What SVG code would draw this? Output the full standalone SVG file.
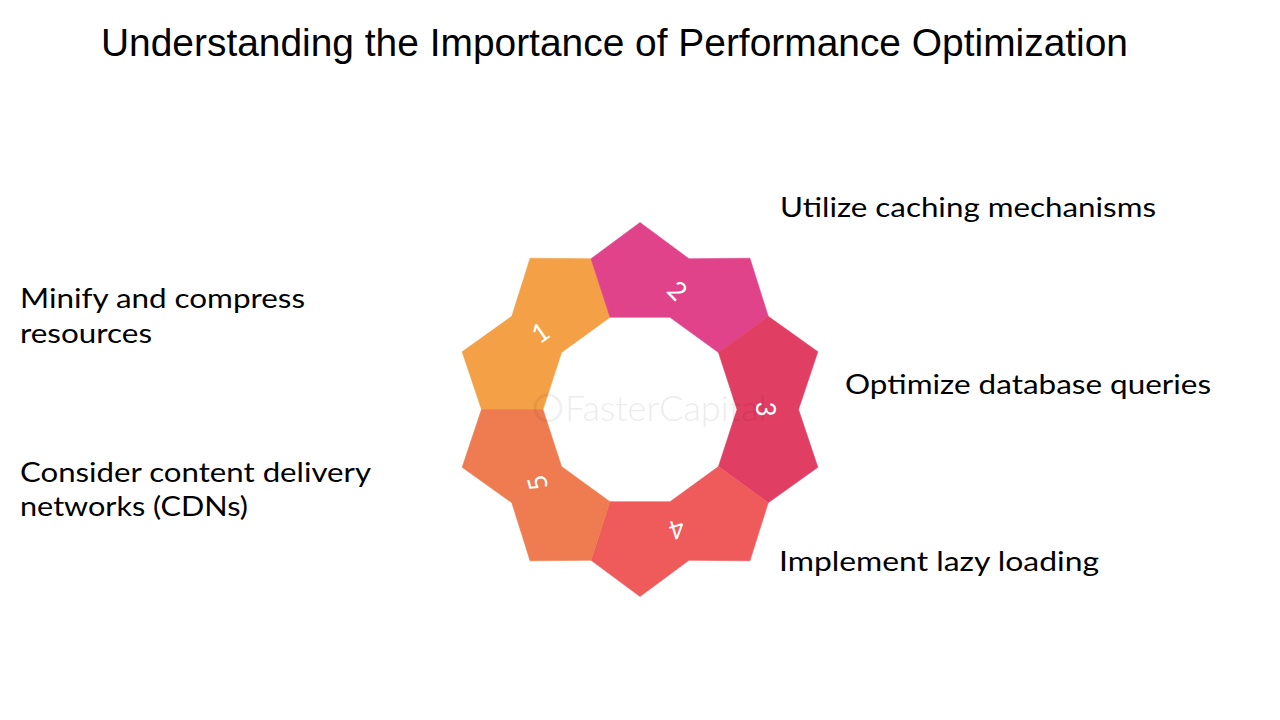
<svg xmlns="http://www.w3.org/2000/svg" width="1280" height="720" viewBox="0 0 1280 720">
<style>
.title{font-family:"Liberation Sans",Arial,sans-serif;font-size:38px;fill:#000}
.lbl{font-family:Lato,"Open Sans",sans-serif;font-size:26px;fill:#000}
.num{font-family:Lato,"Open Sans",sans-serif;font-size:26px;fill:#fff;text-anchor:middle;dominant-baseline:central}
.seg{stroke-width:0.6;stroke-linejoin:round}
.wm{font-family:Lato,"Open Sans",sans-serif;font-weight:300;font-size:36px;fill:#000;opacity:0.07}
</style>
<rect width="1280" height="720" fill="#fff"/>
<text class="title" x="101" y="56" textLength="1027" lengthAdjust="spacingAndGlyphs">Understanding the Importance of Performance Optimization</text>

<g id="ring">
<g id="seg1">
<polygon class="seg" fill="#F4A047" stroke="#F4A047" points="591.02,258.76 530.08,258.21 511.77,316.33 462.15,351.71 481.5,409.5 543,409.5 561.53,352.48 610.03,317.25"/>
<text class="num" transform="translate(540,332) rotate(-35)">1</text>
</g>
<g id="seg2">
<polygon class="seg" fill="#E0438A" stroke="#E0438A" points="768.23,316.33 749.92,258.21 688.98,258.76 640,222.5 591.02,258.76 610.03,317.25 669.97,317.25 718.47,352.48"/>
<text class="num" transform="translate(678,290) rotate(45)">2</text>
</g>
<g id="seg3">
<polygon class="seg" fill="#E03E62" stroke="#E03E62" points="768.23,502.67 817.85,467.29 798.5,409.5 817.85,351.71 768.23,316.33 718.47,352.48 737,409.5 718.47,466.52"/>
<text class="num" transform="translate(766,409) rotate(90)">3</text>
</g>
<g id="seg4">
<polygon class="seg" fill="#EF5A5A" stroke="#EF5A5A" points="591.02,560.24 640,596.5 688.98,560.24 749.92,560.79 768.23,502.67 718.47,466.52 669.97,501.75 610.03,501.75"/>
<text class="num" transform="translate(677,530) rotate(163)">4</text>
</g>
<g id="seg5">
<polygon class="seg" fill="#EE7C50" stroke="#EE7C50" points="481.5,409.5 462.15,467.29 511.77,502.67 530.08,560.79 591.02,560.24 610.03,501.75 561.53,466.52 543,409.5"/>
<text class="num" transform="translate(537,483) rotate(255)">5</text>
</g>
</g>

<g id="watermark">
<circle cx="548" cy="408" r="13" fill="none" stroke="#000" stroke-width="3" opacity="0.06"/>
<text class="wm" x="565" y="421">FasterCapital</text>
</g>

<g id="connectors"></g>

<g id="labels">
<g id="label1">
<text class="lbl" x="20" y="308" textLength="285" lengthAdjust="spacingAndGlyphs">Minify and compress</text>
<text class="lbl" x="20" y="342.5" textLength="132" lengthAdjust="spacingAndGlyphs">resources</text>
</g>
<g id="label2">
<text class="lbl" x="780" y="216.5" textLength="376" lengthAdjust="spacingAndGlyphs">Utilize caching mechanisms</text>
</g>
<g id="label3">
<text class="lbl" x="845" y="393.5" textLength="366" lengthAdjust="spacingAndGlyphs">Optimize database queries</text>
</g>
<g id="label4">
<text class="lbl" x="779" y="570.5" textLength="320" lengthAdjust="spacingAndGlyphs">Implement lazy loading</text>
</g>
<g id="label5">
<text class="lbl" x="20" y="481.5" textLength="351" lengthAdjust="spacingAndGlyphs">Consider content delivery</text>
<text class="lbl" x="20" y="515.5" textLength="228" lengthAdjust="spacingAndGlyphs">networks (CDNs)</text>
</g>
</g>
</svg>
